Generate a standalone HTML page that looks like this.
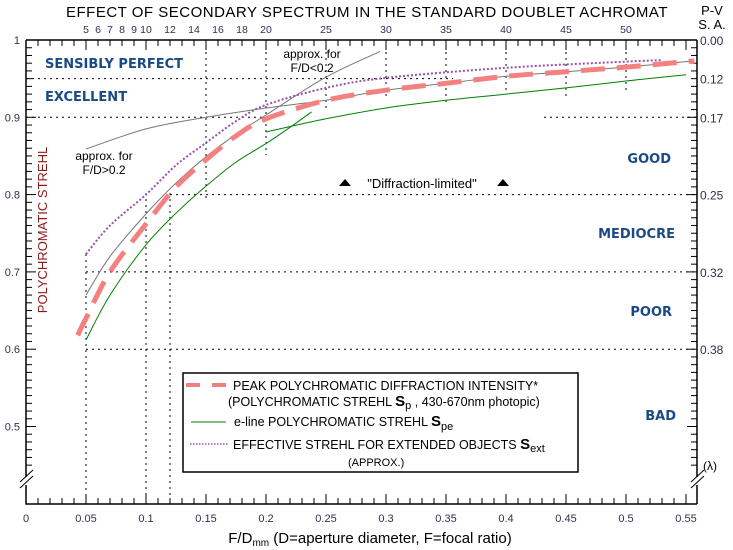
<!DOCTYPE html>
<html><head><meta charset="utf-8"><style>
body{margin:0;background:#fff;}
svg{display:block;font-family:"Liberation Sans",sans-serif;}
.q{fill:#1a4a86;font-weight:bold;font-size:13px;font-family:"DejaVu Sans","Liberation Sans",sans-serif;}
</style></head><body>
<svg id="c" width="733" height="550" viewBox="0 0 733 550">
<text x="367" y="17" text-anchor="middle" font-size="15" letter-spacing="0.5">EFFECT OF SECONDARY SPECTRUM IN THE STANDARD DOUBLET ACHROMAT</text>
<text x="712" y="15" text-anchor="middle" font-size="13">P-V</text>
<text x="712" y="29" text-anchor="middle" font-size="13">S. A.</text>
<g id="grid"></g><g id="axes"></g><g id="series"></g>
<text class="q" x="45" y="68">SENSIBLY PERFECT</text>
<text class="q" x="45" y="101">EXCELLENT</text>
<text class="q" x="671" y="163" text-anchor="end">GOOD</text>
<text class="q" x="675" y="238" text-anchor="end">MEDIOCRE</text>
<text class="q" x="672" y="316" text-anchor="end">POOR</text>
<text class="q" x="676" y="420" text-anchor="end">BAD</text>
<text x="47" y="230" transform="rotate(-90 47 230)" text-anchor="middle" font-size="13" fill="#8b1a1a">POLYCHROMATIC STREHL</text>
<text x="312" y="58" text-anchor="middle" font-size="12">approx. for</text>
<text x="312" y="72" text-anchor="middle" font-size="12">F/D&lt;0.2</text>
<text x="104" y="160" text-anchor="middle" font-size="12">approx. for</text>
<text x="104" y="174" text-anchor="middle" font-size="12">F/D&gt;0.2</text>
<polygon points="339,186 351,186 345,179" fill="#000"/>
<polygon points="497,186 509,186 503,179" fill="#000"/>
<text x="422" y="188" text-anchor="middle" font-size="13">"Diffraction-limited"</text>
<text x="703" y="470" font-size="12">(λ)</text>
<text x="370" y="543" text-anchor="middle" font-size="15">F/D<tspan font-size="10" dy="3">mm</tspan><tspan dy="-3">  (D=aperture diameter,   F=focal ratio)</tspan></text>
<g>
<rect x="183" y="373" width="395" height="99" fill="#fff" stroke="#000" stroke-width="1.5"/>
<line x1="186" y1="385" x2="228" y2="385" stroke="#f08080" stroke-width="4" stroke-dasharray="14,12"/>
<text x="233" y="390" font-size="12.5">PEAK POLYCHROMATIC DIFFRACTION INTENSITY*</text>
<text x="228" y="406" font-size="12.5">(POLYCHROMATIC STREHL <tspan font-weight="bold" font-size="15">S</tspan><tspan font-size="11" dy="3">p</tspan><tspan dy="-3"> , 430-670nm photopic)</tspan></text>
<line x1="191" y1="422" x2="226" y2="422" stroke="#008000" stroke-width="1"/>
<text x="234" y="426" font-size="12.5">e-line POLYCHROMATIC STREHL <tspan font-weight="bold" font-size="15">S</tspan><tspan font-size="11" dy="4">pe</tspan></text>
<line x1="190" y1="444" x2="228" y2="444" stroke="#9b4fb0" stroke-width="1.5" stroke-dasharray="1.5,1.5"/>
<text x="233" y="449" font-size="12.5">EFFECTIVE STREHL FOR EXTENDED OBJECTS <tspan font-weight="bold" font-size="15">S</tspan><tspan font-size="11" dy="3">ext</tspan></text>
<text x="348" y="466" font-size="11">(APPROX.)</text>
</g>
</svg>
<script>
const NS="http://www.w3.org/2000/svg";
const xTicks=[0,0.05,0.1,0.15,0.2,0.25,0.3,0.35,0.4,0.45,0.5,0.55];
const xTickLabels=["0","0.05","0.1","0.15","0.2","0.25","0.3","0.35","0.4","0.45","0.5","0.55"];
const yTicks=[1,0.9,0.8,0.7,0.6,0.5];
const yTickLabels=["1","0.9","0.8","0.7","0.6","0.5"];
const topTicks=[5,6,7,8,9,10,12,14,16,18,20,25,30,35,40,45,50];
const rightTicks=[1,0.95,0.9,0.8,0.7,0.6];
const rightLabels=["0.00","0.12","0.17","0.25","0.32","0.38"];
const spX=[0.043,0.05,0.07,0.1,0.125,0.15,0.175,0.2,0.25,0.3,0.35,0.4,0.45,0.5,0.557];
const spY=[0.618,0.64,0.70,0.762,0.81,0.845,0.876,0.898,0.922,0.935,0.944,0.953,0.959,0.965,0.973];
const speX=[0.05,0.07,0.1,0.125,0.15,0.175,0.2,0.22,0.238];
const speY=[0.612,0.67,0.735,0.776,0.811,0.842,0.866,0.887,0.907];
const spe2X=[0.2,0.25,0.3,0.35,0.4,0.45,0.5,0.55];
const spe2Y=[0.881,0.898,0.912,0.922,0.930,0.938,0.947,0.955];
const extX=[0.05,0.07,0.1,0.125,0.15,0.175,0.2,0.25,0.3,0.4,0.5,0.53];
const extY=[0.723,0.76,0.80,0.838,0.867,0.895,0.916,0.938,0.951,0.964,0.972,0.974];
const gLtX=[0.05,0.07,0.1,0.125,0.15,0.175,0.2,0.25,0.295];
const gLtY=[0.67,0.72,0.775,0.815,0.849,0.878,0.903,0.952,0.985];
const gGtX=[0.05,0.1,0.15,0.2,0.25,0.3,0.35,0.4,0.45,0.5,0.557];
const gGtY=[0.859,0.885,0.900,0.912,0.922,0.935,0.944,0.953,0.959,0.965,0.973];
const X=v=>26+1200*v, Y=v=>40+(1-v)*773, XT=n=>26+12*n;
function mk(p,t,a){const e=document.createElementNS(NS,t);for(const k in a)e.setAttribute(k,a[k]);p.appendChild(e);return e;}
const G=document.getElementById('grid'),A=document.getElementById('axes'),S=document.getElementById('series');
const dot={stroke:"#000","stroke-width":1,"stroke-dasharray":"2,4"};
[[0.95,26,453],[0.9,26,266],[0.9,544,697],[0.8,170,697],[0.7,86,697],[0.6,86,697]].forEach(h=>{
 const l=mk(G,'line',Object.assign({x1:h[1],x2:h[2],y1:Y(h[0]),y2:Y(h[0])},dot));
 
 });
[[0.05,254,504],[0.1,193,504],[0.12,193,504],[0.15,40,200],[0.2,40,155],[0.25,40,112],[0.3,40,100],[0.35,40,105],[0.4,40,90],[0.45,40,100],[0.5,40,90]].forEach(v=>{
 const l=mk(G,'line',Object.assign({x1:X(v[0]),x2:X(v[0]),y1:v[1],y2:v[2]},dot));
 
 });
const ax={stroke:"#000","stroke-width":1.5,fill:"none"};
let e=mk(A,'path',Object.assign({d:"M26,40 H697 M26,40 V477 M26,485 V504 H697 M697,40 V477 M697,485 V504"},ax));


mk(A,'path',{d:"M20,482 L33,470 M20,488 L33,476 M691,482 L704,470 M691,488 L704,476",stroke:"#000","stroke-width":1});
for(let i=0;i<=55;i++){mk(A,'line',{x1:26+12*i,x2:26+12*i,y1:504,y2:i%5?498:494,stroke:"#000"});}
for(let i=0;i<=55;i++){mk(A,'line',{x1:26+12*i,x2:26+12*i,y1:40,y2:i%5?46:50,stroke:"#000"});}
for(let i=0;i<=57;i++){const y=40+7.73*i;if(y>470)break;mk(A,'line',{x1:26,x2:i%10?32:36,y1:y,y2:y,stroke:"#000"});mk(A,'line',{x1:697,x2:i%10?691:687,y1:y,y2:y,stroke:"#000"});}
xTicks.forEach((v,i)=>{const t=mk(A,'text',{x:X(v),y:522,"text-anchor":"middle","font-size":11,fill:"#303050"});t.textContent=xTickLabels[i];
 
 });
yTicks.forEach((v,i)=>{const t=mk(A,'text',{x:20,y:Y(v)+4,"text-anchor":"end","font-size":11,fill:"#303050"});t.textContent=yTickLabels[i];
 
 });
topTicks.forEach(n=>{const t=mk(A,'text',{x:XT(n),y:33,"text-anchor":"middle","font-size":10.5,fill:"#303050"});t.textContent=n;
 
 });
rightTicks.forEach((v,i)=>{const t=mk(A,'text',{x:700,y:Y(v)+5,"font-size":12,fill:"#303050"});t.textContent=rightLabels[i];
 
 });
function line(xs,ys,st,name){
 const P=xs.map((x,i)=>[X(x),Y(ys[i])]);
 let d="M"+P[0][0].toFixed(1)+","+P[0][1].toFixed(1);
 for(let i=0;i<P.length-1;i++){
  const p0=P[Math.max(0,i-1)],p1=P[i],p2=P[i+1],p3=P[Math.min(P.length-1,i+2)];
  const c1=[p1[0]+(p2[0]-p0[0])/6,p1[1]+(p2[1]-p0[1])/6];
  const c2=[p2[0]-(p3[0]-p1[0])/6,p2[1]-(p3[1]-p1[1])/6];
  d+=" C"+c1[0].toFixed(1)+","+c1[1].toFixed(1)+" "+c2[0].toFixed(1)+","+c2[1].toFixed(1)+" "+p2[0].toFixed(1)+","+p2[1].toFixed(1);
 }
 const p=mk(S,'path',Object.assign({d:d,fill:"none"},st));
 
 }
line(gLtX,gLtY,{stroke:"#777","stroke-width":1},'approx-line-fd-lt');
line(gGtX,gGtY,{stroke:"#777","stroke-width":1},'approx-line-fd-gt');
line(extX,extY,{stroke:"#9b4fb0","stroke-width":2,"stroke-dasharray":"2,2"},'series-extended-strehl');
line(speX,speY,{stroke:"#008000","stroke-width":1},'series-eline-strehl');
line(spe2X,spe2Y,{stroke:"#008000","stroke-width":1},'series-eline-strehl-upper');
line(spX,spY,{stroke:"#f58080","stroke-width":5,"stroke-dasharray":"24,12"},'series-polychromatic-strehl');
</script>
</body></html>
